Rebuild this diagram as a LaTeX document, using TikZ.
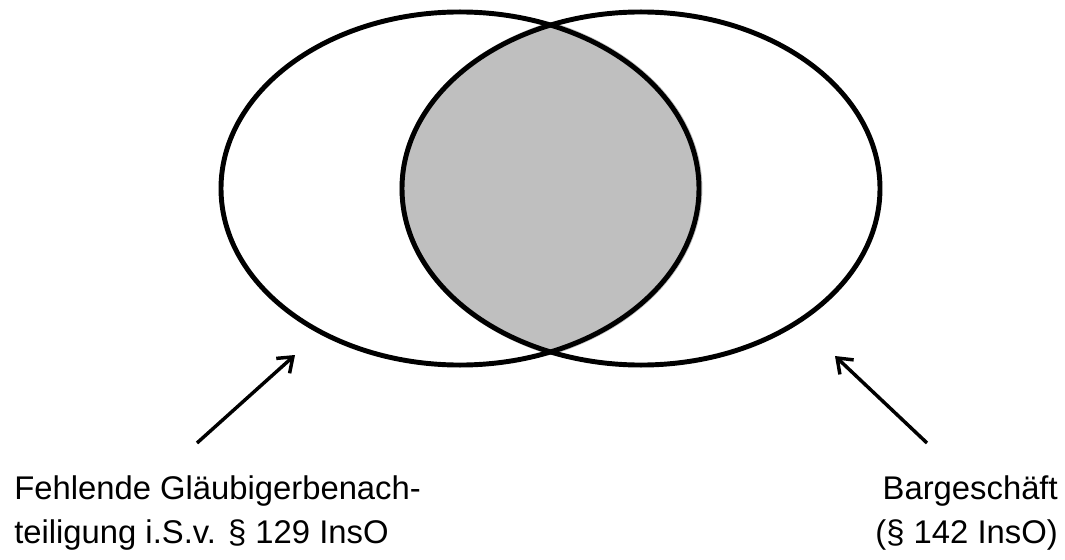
\documentclass[tikz,border=0pt]{standalone}
\usepackage{fontspec}
\setmainfont{Liberation Sans}
\usetikzlibrary{arrows.meta}
\definecolor{lensgray}{HTML}{BFBFBF}
\tikzset{
  setline/.style={line width=3.7pt, draw=black},
  pointer/.style={line width=2.6pt, draw=black, -{Straight Barb[length=10pt, width=15pt, line width=2.6pt]}},
  label/.style={font=\fontsize{24.6pt}{32.4pt}\selectfont, inner sep=0pt, text=black}
}
\begin{document}
\begin{tikzpicture}[x=0.75pt, y=-0.75pt]
  \useasboundingbox (0,0) rectangle (1065,560);
  \coordinate (lc) at (460,188.5);
  \coordinate (rc) at (641,188.5);
  % shaded overlap (slightly larger than the lens)
  \begin{scope}
    \clip (lc) ellipse [x radius=181.8pt, y radius=134.8pt];
    \fill[lensgray] ([xshift=0.75pt]rc) ellipse [x radius=181.8pt, y radius=134.8pt];
  \end{scope}
  % the two sets
  \draw[setline] (lc) ellipse [x radius=179.25pt, y radius=132.4pt];
  \draw[setline] (rc) ellipse [x radius=179.25pt, y radius=132.4pt];
  % labels
  \node[label, align=left, anchor=base west] (lt) at (14,543)
    {Fehlende Gläubigerbenach-\\teiligung i.S.v. § 129 InsO};
  \node[label, align=right, anchor=base east] (rt) at (1058,543)
    {Bargeschäft\\(§ 142 InsO)};
  % arrows
  \coordinate (ltail) at (197,443);
  \coordinate (ltip) at (295,355);
  \coordinate (rtail) at (927,443);
  \coordinate (rtip) at (835,356);
  \draw[pointer] (ltail) -- (ltip);
  \draw[pointer] (rtail) -- (rtip);
\end{tikzpicture}
\end{document}
